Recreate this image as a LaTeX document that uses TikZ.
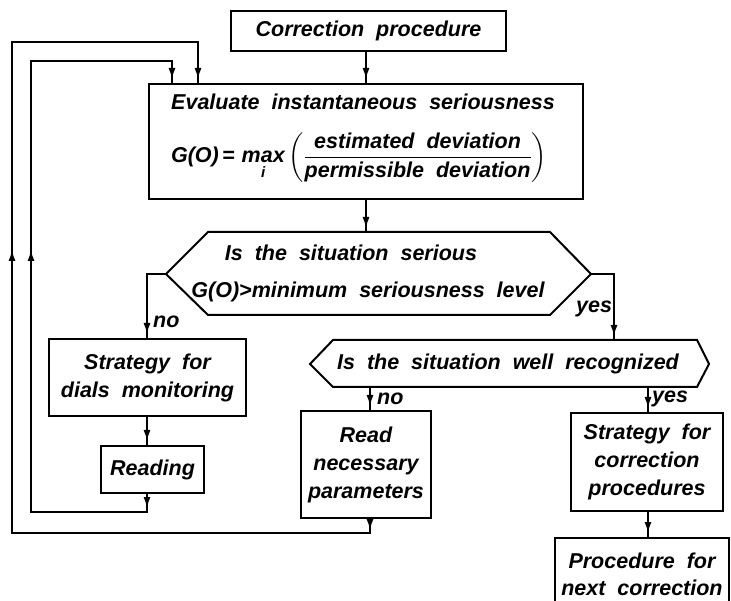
\documentclass[tikz,border=0pt]{standalone}
\usepackage{amsmath}
\usepackage{fontspec}
\setmainfont{Liberation Sans}[WordSpace=2.0]
\usetikzlibrary{arrows.meta,decorations.markings}
\tikzset{
  lbl/.style={font=\bfseries\itshape\fontsize{21.5}{28}\selectfont, inner sep=0pt},
  box/.style={draw, line width=2pt, inner sep=0pt, anchor=north west, align=center,
              font=\bfseries\itshape\fontsize{21.5}{28}\selectfont},
  conn/.style={line width=1.5pt},
  tipmark/.tip={Latex[length=11pt,width=7pt]},
}
\begin{document}
\begin{tikzpicture}[x=1pt,y=-1pt]
\useasboundingbox (0,0) rectangle (731,601);
\clip (0,0) rectangle (731,601);
% boxes
\node[box, minimum width=275, minimum height=40] (top) at (230,10) {Correction procedure};
\node[box, minimum width=434, minimum height=115] (eval) at (148,83) {};
\node[lbl] (evaltxt) at (363,102) {Evaluate instantaneous seriousness};
\node[lbl, anchor=base] (formula) at (359,163) {$\text{G(O)}\,\text{=}\,\mathop{\text{max}}\limits_{\text{i}}\,\biggl(\dfrac{\text{estimated deviation}}{\text{permissible deviation}}\biggr)$};
\node[box, minimum width=197, minimum height=77] (strat1) at (48,338) {Strategy for\\dials monitoring};
\node[box, minimum width=103, minimum height=47] (reading) at (100,445) {Reading};
\node[box, minimum width=130, minimum height=107] (read) at (300,410) {Read\\necessary\\parameters};
\node[box, minimum width=152, minimum height=98] (strat2) at (570,412) {Strategy for\\correction\\procedures};
\node[box, minimum width=174, minimum height=72, font=\bfseries\itshape\fontsize{21.5}{27}\selectfont] (proc) at (554,537) {Procedure for\\next correction};
% hexagon 1
\coordinate (h1l) at (166,274);
\coordinate (h1r) at (591,274);
\draw[line width=2pt] (h1l) -- (208,232) -- (550,232) -- (h1r) -- (550,315) -- (208,315) -- cycle;
\node[lbl] (h1a) at (351,253) {Is the situation serious};
\node[lbl] (h1b) at (368,292) {G(O)>minimum seriousness level};
% hexagon 2
\coordinate (h2l) at (310,364);
\coordinate (h2r) at (709,364);
\draw[line width=2pt] (h2l) -- (333,340) -- (697,340) -- (h2r) -- (697,387) -- (333,387) -- cycle;
\node[lbl] (h2a) at (508,364) {Is the situation well recognized};
\coordinate (h2top) at (614,340);
\coordinate (h2no) at (370,387);
\coordinate (h2yes) at (648,387);
\coordinate (h1top) at (366,232);
% connectors
\draw[conn, postaction={decorate}, decoration={markings, mark=at position -4pt with {\arrow{tipmark}}}]
  (366,50) -- (366,83);
\draw[conn, postaction={decorate}, decoration={markings, mark=at position -4pt with {\arrow{tipmark}}}]
  (366,198) -- (h1top);
\draw[conn, postaction={decorate}, decoration={markings, mark=at position -4pt with {\arrow{tipmark}}}]
  (h1l) -- (147,274) -- (147,338);
\draw[conn, postaction={decorate}, decoration={markings, mark=at position -4pt with {\arrow{tipmark}}}]
  (h1r) -- (614,274) -- (h2top);
\draw[conn, postaction={decorate}, decoration={markings, mark=at position -4pt with {\arrow{tipmark}}}]
  (147,415) -- (147,445);
\draw[conn, postaction={decorate}, decoration={markings, mark=at position -4pt with {\arrow{tipmark}}}]
  (h2no) -- (370,410);
\draw[conn, postaction={decorate}, decoration={markings, mark=at position -4pt with {\arrow{tipmark}}}]
  (h2yes) -- (648,412);
\draw[conn, postaction={decorate}, decoration={markings, mark=at position -4pt with {\arrow{tipmark}}}]
  (648,510) -- (648,537);
% inner loop
\draw[conn, postaction={decorate}, decoration={markings,
    mark=at position 16pt with {\arrow{tipmark}},
    mark=at position 398pt with {\arrow{tipmark}},
    mark=at position -4pt with {\arrow{tipmark}}}]
  (147,492) -- (147,512) -- (31,512) -- (31,61) -- (172,61) -- (172,83);
% outer loop
\draw[conn, postaction={decorate}, decoration={markings,
    mark=at position 13pt with {\arrow{tipmark}},
    mark=at position 657pt with {\arrow{tipmark}},
    mark=at position -4pt with {\arrow{tipmark}}}]
  (370,517) -- (370,533) -- (12,533) -- (12,42) -- (198,42) -- (198,83);
% labels
\node[lbl, anchor=west] (lno1) at (153,322) {no};
\node[lbl, anchor=west] (lyes1) at (576,309) {yes};
\node[lbl, anchor=west] (lno2) at (377,399) {no};
\node[lbl, anchor=west] (lyes2) at (652,399) {yes};
\end{tikzpicture}
\end{document}
